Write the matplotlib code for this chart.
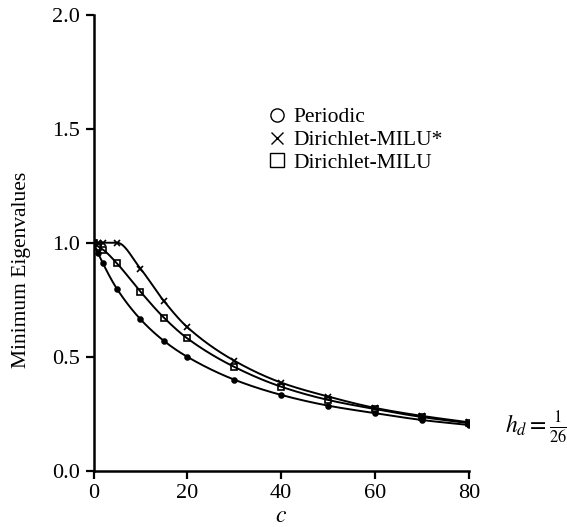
import numpy as np
import matplotlib
matplotlib.use("Agg")
import matplotlib.pyplot as plt
from matplotlib.lines import Line2D

plt.rcParams['font.family'] = ['Liberation Serif', 'DejaVu Serif']
plt.rcParams['mathtext.fontset'] = 'stix'

c_vals = [0, 1, 2, 5, 10, 15, 20, 30, 40, 50, 60, 70, 80]
periodic = [1.0, 0.953, 0.909, 0.797, 0.664, 0.569, 0.499, 0.399, 0.332, 0.285, 0.252, 0.222, 0.200]
milu_star = [1.0, 1.0, 1.0, 1.0, 0.886, 0.744, 0.629, 0.482, 0.386, 0.325, 0.275, 0.240, 0.212]
milu = [1.0, 0.983, 0.970, 0.909, 0.785, 0.671, 0.580, 0.455, 0.368, 0.310, 0.270, 0.235, 0.208]
series_names = ["Periodic", "Dirichlet-MILU*", "Dirichlet-MILU"]
x_ticks = [0, 20, 40, 60, 80]
y_ticks = [0.0, 0.5, 1.0, 1.5, 2.0]


def pchip(x, y, xs):
    x = np.asarray(x, float); y = np.asarray(y, float)
    h = np.diff(x); d = np.diff(y) / h
    n = len(x); m = np.zeros(n)
    for k in range(1, n - 1):
        if d[k - 1] * d[k] <= 0:
            m[k] = 0.0
        else:
            w1 = 2 * h[k] + h[k - 1]; w2 = h[k] + 2 * h[k - 1]
            m[k] = (w1 + w2) / (w1 / d[k - 1] + w2 / d[k])
    m[0] = d[0]; m[-1] = d[-1]
    idx = np.clip(np.searchsorted(x, xs) - 1, 0, n - 2)
    t = (xs - x[idx]) / h[idx]
    h00 = 2 * t**3 - 3 * t**2 + 1; h10 = t**3 - 2 * t**2 + t
    h01 = -2 * t**3 + 3 * t**2; h11 = t**3 - t**2
    return h00 * y[idx] + h10 * h[idx] * m[idx] + h01 * y[idx + 1] + h11 * h[idx] * m[idx + 1]


W, H = 567, 527
fig = plt.figure(figsize=(W / 100, H / 100), dpi=100)
ax = fig.add_axes([0.165, 0.107, 0.662, 0.865])

xs = np.linspace(0, 80, 800)
for ys, mk, ms, mfc in [(periodic, 'o', 3.5, 'black'),
                         (milu_star, 'x', 5, 'black'),
                         (milu, 's', 4.5, 'none')]:
    ax.plot(xs, pchip(c_vals, ys, xs), color='black', lw=1.4)
    ax.plot(c_vals, ys, linestyle='none', marker=mk, ms=ms, mfc=mfc,
            mec='black', mew=1.2, color='black')

ax.set_xlim(0, 80)
ax.set_ylim(0, 2.0)
ax.set_xticks(x_ticks)
ax.set_yticks(y_ticks)
ax.set_yticklabels([f"{v:.1f}" for v in y_ticks])
for s in ['top', 'right']:
    ax.spines[s].set_visible(False)
for s in ['left', 'bottom']:
    ax.spines[s].set_linewidth(1.8)
ax.tick_params(direction='out', length=6, width=1.6, labelsize=16, pad=4)

fig.text(281 / W, 1 - 517 / H, '$c$', fontsize=17, ha='center', va='center')
fig.text(22 / W, 1 - 270 / H, 'Minimum Eigenvalues', fontsize=15.5,
         rotation=90, ha='center', va='center')

handles = [Line2D([], [], ls='none', marker='o', ms=9.5, mfc='none', mec='black', mew=1.0),
           Line2D([], [], ls='none', marker='x', ms=9, mec='black', mew=1.0),
           Line2D([], [], ls='none', marker='s', ms=9.5, mfc='none', mec='black', mew=1.0)]
ax.legend(handles, series_names, loc='center left', bbox_to_anchor=(0.46, 0.725),
          frameon=False, fontsize=15.5, handletextpad=0.25, labelspacing=0.12,
          handlelength=1.0, borderaxespad=0, borderpad=0)

ax.text(1.095, 0.19, r'$h_d = \frac{1}{26}$', transform=ax.get_yaxis_transform(),
        fontsize=17, va='center', ha='left', clip_on=False)

fig.savefig('out.png', dpi=100)
